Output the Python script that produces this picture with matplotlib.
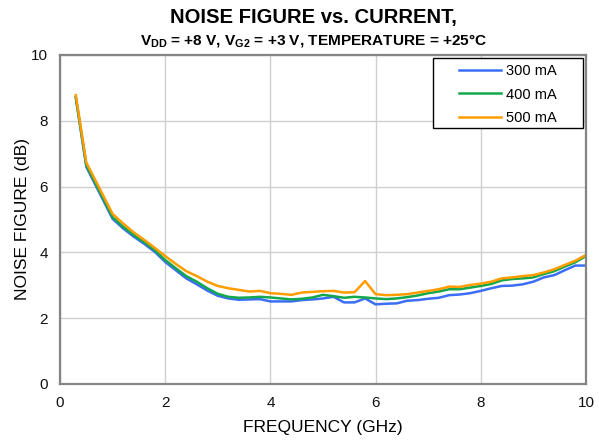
import matplotlib
matplotlib.use("Agg")
import matplotlib.pyplot as plt
from matplotlib.patches import Rectangle

plt.rcParams['font.family'] = ['Liberation Sans', 'DejaVu Sans']
plt.rcParams['mathtext.fontset'] = 'custom'
plt.rcParams['mathtext.rm'] = 'Liberation Sans'
plt.rcParams['mathtext.bf'] = 'Liberation Sans:bold'

freq = [0.3, 0.5, 1.0, 1.2, 1.4, 1.6, 1.8, 2.0, 2.2, 2.4, 2.6, 2.8, 3.0, 3.2, 3.4, 3.6,
        3.8, 4.0, 4.2, 4.4, 4.6, 4.8, 5.0, 5.2, 5.4, 5.6, 5.8, 6.0, 6.2, 6.4, 6.6, 6.8,
        7.0, 7.2, 7.4, 7.6, 7.8, 8.0, 8.2, 8.4, 8.6, 8.8, 9.0, 9.2, 9.4, 9.6, 9.8, 10.0]

nf_300 = [8.70, 6.60, 5.02, 4.73, 4.48, 4.26, 4.02, 3.71, 3.46, 3.21, 3.03, 2.84, 2.68, 2.60, 2.56, 2.57,
          2.58, 2.51, 2.51, 2.51, 2.55, 2.57, 2.60, 2.65, 2.48, 2.48, 2.60, 2.42, 2.44, 2.45, 2.53, 2.55,
          2.59, 2.62, 2.70, 2.72, 2.76, 2.83, 2.91, 2.98, 2.99, 3.03, 3.11, 3.24, 3.31, 3.46, 3.60, 3.60]

nf_400 = [8.72, 6.65, 5.07, 4.78, 4.53, 4.31, 4.07, 3.77, 3.52, 3.28, 3.11, 2.91, 2.74, 2.65, 2.62, 2.63,
          2.65, 2.63, 2.60, 2.57, 2.59, 2.63, 2.71, 2.67, 2.62, 2.65, 2.63, 2.60, 2.58, 2.60, 2.64, 2.69,
          2.76, 2.81, 2.88, 2.88, 2.93, 2.98, 3.04, 3.15, 3.19, 3.21, 3.24, 3.34, 3.43, 3.57, 3.70, 3.89]

nf_500 = [8.78, 6.73, 5.17, 4.88, 4.61, 4.38, 4.14, 3.89, 3.65, 3.43, 3.28, 3.11, 2.98, 2.91, 2.86, 2.81,
          2.83, 2.76, 2.74, 2.71, 2.78, 2.80, 2.82, 2.83, 2.78, 2.79, 3.13, 2.73, 2.70, 2.71, 2.73, 2.78,
          2.83, 2.88, 2.96, 2.95, 3.01, 3.05, 3.11, 3.21, 3.24, 3.28, 3.31, 3.39, 3.49, 3.62, 3.75, 3.92]

labels = ['300 mA', '400 mA', '500 mA']
colors = ['#3B6EF5', '#14A84E', '#FF9C00']

fig = plt.figure(figsize=(5.99, 4.40), dpi=100)
ax = fig.add_axes([0.1002, 0.1273, 0.8780, 0.7477])

for ys, lab, c in zip([nf_300, nf_400, nf_500], labels, colors):
    ax.plot(freq, ys, color=c, lw=1.8, label=lab)

ax.set_xlim(0, 10)
ax.set_ylim(0, 10)
ax.set_xticks([0, 2, 4, 6, 8, 10])
ax.set_yticks([0, 2, 4, 6, 8, 10])
ax.tick_params(length=0, labelsize=11, pad=8.5, colors='#111111')
ax.grid(True, color='#CFCFCF', lw=1.0)
ax.set_axisbelow(True)
for s in ax.spines.values():
    s.set_color('#848484')
    s.set_linewidth(1.6)

ax.set_xlabel('FREQUENCY (GHz)', fontsize=12.5, labelpad=7)
ax.set_ylabel('NOISE FIGURE (dB)', fontsize=12.5, labelpad=1)

# legend frame
ax.add_patch(Rectangle((0.709, 0.778), 0.285, 0.213, transform=ax.transAxes,
                       facecolor='white', edgecolor='black', lw=1.0, zorder=4, clip_on=False))
leg = ax.legend(loc='upper left', bbox_to_anchor=(0.7586, 0.973), fontsize=10.5, frameon=False,
                handlelength=2.9, handletextpad=0.3, borderpad=0, borderaxespad=0,
                labelspacing=0.66)
leg.set_zorder(5)

cx = 0.524
fig.text(cx, 0.960, 'NOISE FIGURE vs. CURRENT,', ha='center', va='center',
         fontsize=14.6, fontweight='bold')
fig.text(cx, 0.909, r'$\mathbf{V_{DD}}$ = +8 V, $\mathbf{V_{G2}}$ = +3 V, TEMPERATURE = +25°C',
         ha='center', va='center', fontsize=11.1, fontweight='bold')

fig.savefig('out.png', dpi=100)
